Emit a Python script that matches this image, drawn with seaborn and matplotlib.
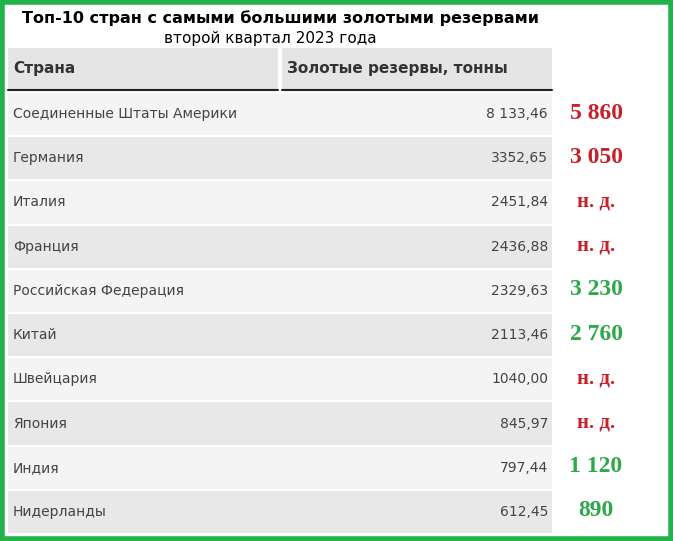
import matplotlib
matplotlib.use("Agg")
import matplotlib.pyplot as plt
import seaborn as sns
from matplotlib.patches import Rectangle

sns.set_theme(style="white")
plt.rcParams['font.family'] = ['DejaVu Sans']

title = "Топ-10 стран с самыми большими золотыми резервами"
subtitle = "второй квартал 2023 года"
headers = ["Страна", "Золотые резервы, тонны"]
countries = ["Соединенные Штаты Америки", "Германия", "Италия", "Франция",
             "Российская Федерация", "Китай", "Швейцария", "Япония", "Индия", "Нидерланды"]
reserves = ["8 133,46", "3352,65", "2451,84", "2436,88", "2329,63",
            "2113,46", "1040,00", "845,97", "797,44", "612,45"]
notes = ["5 860", "3 050", "н. д.", "н. д.", "3 230", "2 760", "н. д.", "н. д.", "1 120", "890"]
note_colors = ["#c8202a", "#c8202a", "#c8202a", "#c8202a", "#2da84a",
               "#2da84a", "#c8202a", "#c8202a", "#2da84a", "#2da84a"]

W, H = 673, 541
fig = plt.figure(figsize=(W/100, H/100), dpi=100)
ax = fig.add_axes([0, 0, 1, 1])
ax.set_xlim(0, W); ax.set_ylim(H, 0); ax.axis("off")

ax.add_patch(Rectangle((2, 2), W-4, H-4, fill=False, ec="#22b24c", lw=4))

ax.text(280, 18, title, ha="center", va="center", fontsize=11.5, fontweight="bold", color="black")
ax.text(270, 39, subtitle, ha="center", va="center", fontsize=11, color="black")

ax.add_patch(Rectangle((8, 48), 544, 42, color="#e5e5e5", lw=0))
ax.plot([280, 280], [48, 90], color="white", lw=3)
ax.plot([8, 278], [90, 90], color="#222222", lw=1.5)
ax.plot([282, 552], [90, 90], color="#222222", lw=1.5)
ax.text(13, 69, headers[0], ha="left", va="center", fontsize=11, fontweight="bold", color="#333333")
ax.text(287, 69, headers[1], ha="left", va="center", fontsize=11, fontweight="bold", color="#333333")

top, rh = 93, 44.2
for i, (c, r, n, nc) in enumerate(zip(countries, reserves, notes, note_colors)):
    y0 = top + i*rh
    col = "#f4f4f4" if i % 2 == 0 else "#e8e8e8"
    ax.add_patch(Rectangle((8, y0), 544, rh-2, color=col, lw=0))
    yc = y0 + rh/2 - 1
    ax.text(13, yc, c, ha="left", va="center", fontsize=10, color="#444444")
    ax.text(548, yc, r, ha="right", va="center", fontsize=10, color="#444444")
    ax.text(596, yc - 1, n, ha="center", va="center", fontsize=17 if "н" not in n else 15,
            fontweight="bold", color=nc, family="Liberation Serif")

fig.savefig("out.png", dpi=100)
